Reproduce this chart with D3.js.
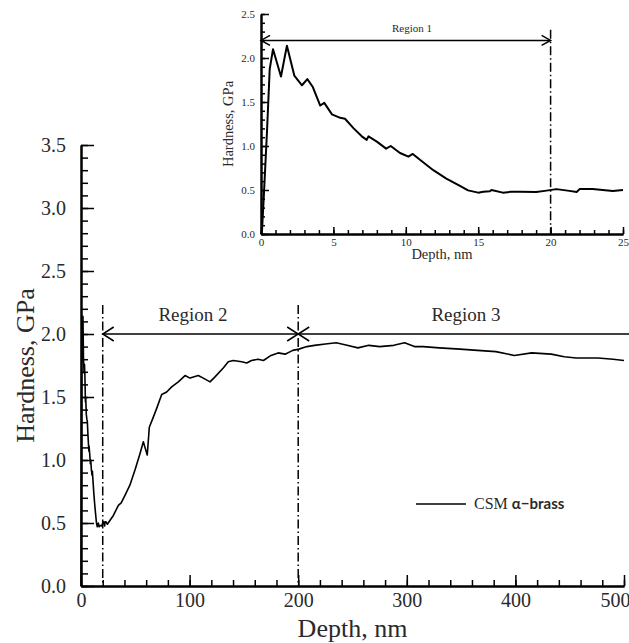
<!DOCTYPE html>
<html>
<head>
<meta charset="utf-8">
<script src="https://cdn.jsdelivr.net/npm/d3@7"></script>
<style>
  body { margin: 0; background: #fff; }
  svg text { font-family: "Liberation Serif", "Times New Roman", serif; fill: #2a2a2a; }
  .axis .domain { stroke: #000; stroke-width: 2; }
  .axis line { stroke: #000; stroke-width: 1.5; }
</style>
</head>
<body>
<div id="chart"></div>
<script>
// depth (nm) and hardness (GPa)
var depthNm = [0, 0.07, 0.18, 0.41, 0.6, 0.83, 1.38, 1.79, 2.3, 2.83, 3.2, 3.58, 4.09, 4.37, 4.9, 5.47, 5.8,
  6.4, 6.96, 7.3, 7.42, 8.0, 8.64, 8.96, 9.6, 10.18, 10.48, 11.0, 11.9, 12.8, 13.74, 14.3, 15.0, 15.35,
  15.8, 15.92, 16.7, 17.3, 17.9, 19.0, 19.6, 20.4, 21.3, 21.8, 22.0, 22.9, 23.6, 24.3, 25.0,
  29.8, 34.4, 37, 40.5, 45, 49.7, 54.3, 57.4, 58.9, 61, 62.9, 66.6, 69.7, 74.3, 78.9, 83.5, 89.6,
  95.8, 100.4, 108, 112.6, 118.8, 123.4, 131, 135.6, 140.2, 148, 152.6, 157, 163, 168, 175, 181.5, 188, 195,
  200.6, 208, 215, 225, 235, 245, 255, 265, 275, 288, 298, 307, 315, 330, 349, 365, 382, 399, 415, 433, 445, 456, 476, 490, 500];
var hardnessGPa = [0, 0.04, 0.38, 1.15, 1.87, 2.1, 1.79, 2.14, 1.8, 1.69, 1.76, 1.67, 1.46, 1.49, 1.36, 1.32, 1.31,
  1.2, 1.11, 1.07, 1.11, 1.05, 0.97, 1.0, 0.92, 0.88, 0.91, 0.84, 0.725, 0.63, 0.546, 0.496, 0.47, 0.48,
  0.485, 0.5, 0.47, 0.48, 0.48, 0.477, 0.49, 0.51, 0.49, 0.477, 0.51, 0.51, 0.5, 0.49, 0.5,
  0.56, 0.64, 0.66, 0.72, 0.8, 0.92, 1.05, 1.145, 1.1, 1.04, 1.26, 1.34, 1.41, 1.52, 1.54, 1.58, 1.62,
  1.67, 1.65, 1.67, 1.65, 1.62, 1.66, 1.73, 1.78, 1.79, 1.78, 1.77, 1.79, 1.80, 1.79, 1.83, 1.85, 1.84, 1.87,
  1.88, 1.90, 1.91, 1.92, 1.93, 1.91, 1.89, 1.91, 1.90, 1.91, 1.93, 1.90, 1.90, 1.89, 1.88, 1.87, 1.86, 1.83, 1.85, 1.84, 1.82, 1.81, 1.81, 1.80, 1.79];

var mainXTicks = [0, 100, 200, 300, 400, 500];
var mainYTicks = [0, 0.5, 1.0, 1.5, 2.0, 2.5, 3.0, 3.5];
var insetXTicks = [0, 5, 10, 15, 20, 25];
var insetYTicks = [0, 0.5, 1.0, 1.5, 2.0, 2.5];

// regions: [from, to] in nm, arrow level in GPa
var region1 = {label: "Region 1", from: 0, to: 20, level: 2.2};
var region2 = {label: "Region 2", from: 20, to: 200, level: 2.0};
var region3 = {label: "Region 3", from: 200, to: 540, level: 2.0};
var legendLabel = ["CSM ", "\u03b1\u2212brass"];

var points = depthNm.map(function(d, i){ return {x: d, y: hardnessGPa[i]}; });

var svg = d3.select("#chart").append("svg")
  .attr("width", 629).attr("height", 643);

function range(a, b, s){
  var out = [];
  for (var v = a; v <= b + 1e-9; v += s) out.push(+v.toFixed(3));
  return out;
}

function dashDot(g, x, yTop, yBot){
  g.append("line")
    .attr("x1", x).attr("x2", x).attr("y1", yTop).attr("y2", yBot)
    .attr("stroke", "#000").attr("stroke-width", 1.5)
    .attr("stroke-dasharray", "9,3,1.5,3");
}

function arrowHead(g, x, y, dir, len, half){
  g.append("path")
    .attr("d", "M" + (x + dir*len) + "," + (y - half) + "L" + x + "," + y + "L" + (x + dir*len) + "," + (y + half))
    .attr("fill", "none").attr("stroke", "#000").attr("stroke-width", 1.5);
}

// ---------- main chart ----------
var x = d3.scaleLinear().domain([0, 500]).range([81, 624]);
var y = d3.scaleLinear().domain([0, 3.5]).range([586, 145]);

var main = svg.append("g");

main.append("g").attr("class", "axis")
  .attr("transform", "translate(0,586)")
  .call(d3.axisBottom(x).tickValues(range(0, 500, 20)).tickFormat("").tickSize(-6).tickSizeOuter(0));
main.append("g").attr("class", "axis")
  .attr("transform", "translate(0,586)")
  .call(d3.axisBottom(x).tickValues(mainXTicks).tickSize(-11).tickSizeOuter(0).tickPadding(7))
  .selectAll("text").style("font-size", "20px")
  .attr("x", function(d){ return d === 500 ? -9 : 0; });

main.append("g").attr("class", "axis")
  .attr("transform", "translate(81,0)")
  .call(d3.axisLeft(y).tickValues(range(0, 3.5, 0.1)).tickFormat("").tickSize(-7).tickSizeOuter(0));
main.append("g").attr("class", "axis")
  .attr("transform", "translate(81,0)")
  .call(d3.axisLeft(y).tickValues(mainYTicks).tickFormat(d3.format(".1f")).tickSize(-13).tickSizeOuter(0).tickPadding(15))
  .selectAll("text").style("font-size", "20px");

main.selectAll(".axis text").attr("font-family", "Liberation Serif").attr("fill", "#333");

main.append("text")
  .attr("x", (x(0) + x(500)) / 2).attr("y", 637)
  .attr("text-anchor", "middle").style("font-size", "26px")
  .text("Depth, nm");
main.append("text")
  .attr("transform", "translate(34," + ((y(0) + y(3.5)) / 2) + ") rotate(-90)")
  .attr("text-anchor", "middle").style("font-size", "26px")
  .text("Hardness, GPa");

// region markers
dashDot(main, x(region2.from), 305, 586);
dashDot(main, x(region2.to), 305, 586);

var ry = y(region2.level);
main.append("line")
  .attr("x1", x(region2.from)).attr("x2", 629).attr("y1", ry).attr("y2", ry)
  .attr("stroke", "#000").attr("stroke-width", 1.5);
arrowHead(main, x(region2.from), ry, 1, 11, 7);
arrowHead(main, x(region2.to), ry, -1, 11, 7);
arrowHead(main, x(region3.from), ry, 1, 11, 7);

main.append("text")
  .attr("x", 193).attr("y", 321).attr("text-anchor", "middle")
  .style("font-size", "19px").text(region2.label);
main.append("text")
  .attr("x", 466).attr("y", 321).attr("text-anchor", "middle")
  .style("font-size", "19px").text(region3.label);

var mainLine = d3.line().x(function(d){ return x(d.x); }).y(function(d){ return y(d.y); });
main.append("path")
  .datum(points)
  .attr("d", mainLine)
  .attr("fill", "none").attr("stroke", "#000").attr("stroke-width", 1.6)
  .attr("stroke-linejoin", "round");

// legend
main.append("line")
  .attr("x1", 416).attr("x2", 466).attr("y1", 504).attr("y2", 504)
  .attr("stroke", "#000").attr("stroke-width", 1.6);
var leg = main.append("text").attr("x", 474).attr("y", 509).style("font-size", "16px");
leg.append("tspan").text(legendLabel[0]);
leg.append("tspan").style("font-family", "Lato, sans-serif")
  .style("font-weight", "bold").style("font-size", "15px").text(legendLabel[1]);

// ---------- inset ----------
var ix = d3.scaleLinear().domain([0, 25]).range([261, 623]);
var iy = d3.scaleLinear().domain([0, 2.5]).range([234, 14]);

var inset = svg.append("g");

inset.append("g").attr("class", "axis")
  .attr("transform", "translate(0,234)")
  .call(d3.axisBottom(ix).tickValues(range(0, 25, 1)).tickFormat("").tickSize(-4).tickSizeOuter(0));
inset.append("g").attr("class", "axis")
  .attr("transform", "translate(0,234)")
  .call(d3.axisBottom(ix).tickValues(insetXTicks).tickFormat(d3.format("d")).tickSize(-7).tickSizeOuter(0).tickPadding(4))
  .selectAll("text").style("font-size", "11px");

inset.append("g").attr("class", "axis")
  .attr("transform", "translate(261,0)")
  .call(d3.axisLeft(iy).tickValues(range(0, 2.5, 0.1)).tickFormat("").tickSize(-4).tickSizeOuter(0));
inset.append("g").attr("class", "axis")
  .attr("transform", "translate(261,0)")
  .call(d3.axisLeft(iy).tickValues(insetYTicks).tickFormat(d3.format(".1f")).tickSize(-8).tickSizeOuter(0).tickPadding(6))
  .selectAll("text").style("font-size", "11px");

inset.selectAll(".axis text").attr("font-family", "Liberation Serif").attr("fill", "#444");

inset.append("text")
  .attr("x", (ix(0) + ix(25)) / 2).attr("y", 259)
  .attr("text-anchor", "middle").style("font-size", "14.5px").attr("fill", "#333")
  .text("Depth, nm");
inset.append("text")
  .attr("transform", "translate(233," + ((iy(0) + iy(2.5)) / 2) + ") rotate(-90)")
  .attr("text-anchor", "middle").style("font-size", "14.5px").attr("fill", "#333")
  .text("Hardness, GPa");

dashDot(inset, ix(region1.to), iy(2.32), 234);
var r1y = iy(region1.level);
inset.append("line")
  .attr("x1", ix(region1.from)).attr("x2", ix(region1.to)).attr("y1", r1y).attr("y2", r1y)
  .attr("stroke", "#000").attr("stroke-width", 1.5);
arrowHead(inset, ix(region1.from), r1y, 1, 9, 5);
arrowHead(inset, ix(region1.to), r1y, -1, 9, 5);
inset.append("text")
  .attr("x", 412).attr("y", 32).attr("text-anchor", "middle")
  .style("font-size", "11px").attr("fill", "#333").text(region1.label);

var insetPts = points.filter(function(d){ return d.x <= 25; });
var insetLine = d3.line().x(function(d){ return ix(d.x); }).y(function(d){ return iy(d.y); });
inset.append("path")
  .datum(insetPts)
  .attr("d", insetLine)
  .attr("fill", "none").attr("stroke", "#000").attr("stroke-width", 2)
  .attr("stroke-linejoin", "round");
</script>
</body>
</html>
